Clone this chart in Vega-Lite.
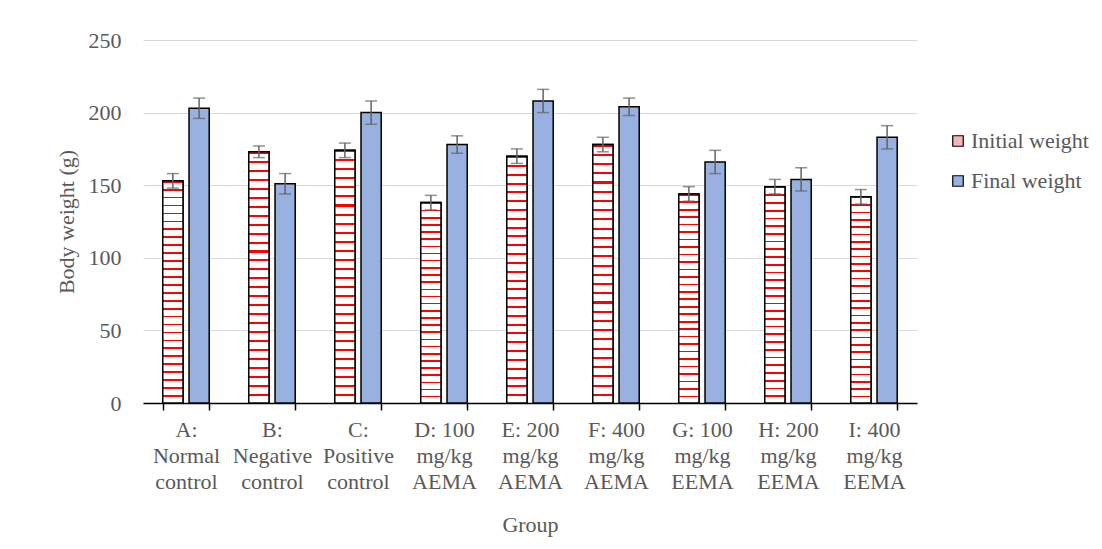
{
  "$schema": "https://vega.github.io/schema/vega-lite/v6.json",
  "autosize": "none",
  "width": 774,
  "height": 363,
  "padding": {"left": 143, "top": 40, "right": 185, "bottom": 146},
  "background": "white",
  "config": {
    "font": "Liberation Serif",
    "view": {"stroke": null},
    "axis": {"labelFont": "Liberation Serif", "titleFont": "Liberation Serif", "labelFontSize": 22, "titleFontSize": 22, "labelColor": "#595959", "titleColor": "#595959", "titleFontWeight": "normal"},
    "legend": {"labelFont": "Liberation Serif", "labelFontSize": 22, "labelColor": "#595959"}
  },
  "data": {
    "values": [
      {"group": "A:\nNormal\ncontrol", "series": "Initial weight", "value": 153, "lo": 148, "hi": 158},
      {"group": "A:\nNormal\ncontrol", "series": "Final weight", "value": 203, "lo": 196, "hi": 210},
      {"group": "B:\nNegative\ncontrol", "series": "Initial weight", "value": 173, "lo": 169, "hi": 177},
      {"group": "B:\nNegative\ncontrol", "series": "Final weight", "value": 151, "lo": 144, "hi": 158},
      {"group": "C:\nPositive\ncontrol", "series": "Initial weight", "value": 174, "lo": 169, "hi": 179},
      {"group": "C:\nPositive\ncontrol", "series": "Final weight", "value": 200, "lo": 192, "hi": 208},
      {"group": "D: 100\nmg/kg\nAEMA", "series": "Initial weight", "value": 138, "lo": 133, "hi": 143},
      {"group": "D: 100\nmg/kg\nAEMA", "series": "Final weight", "value": 178, "lo": 172, "hi": 184},
      {"group": "E: 200\nmg/kg\nAEMA", "series": "Initial weight", "value": 170, "lo": 165, "hi": 175},
      {"group": "E: 200\nmg/kg\nAEMA", "series": "Final weight", "value": 208, "lo": 200, "hi": 216},
      {"group": "F: 400\nmg/kg\nAEMA", "series": "Initial weight", "value": 178, "lo": 173, "hi": 183},
      {"group": "F: 400\nmg/kg\nAEMA", "series": "Final weight", "value": 204, "lo": 198, "hi": 210},
      {"group": "G: 100\nmg/kg\nEEMA", "series": "Initial weight", "value": 144, "lo": 139, "hi": 149},
      {"group": "G: 100\nmg/kg\nEEMA", "series": "Final weight", "value": 166, "lo": 158, "hi": 174},
      {"group": "H: 200\nmg/kg\nEEMA", "series": "Initial weight", "value": 149, "lo": 144, "hi": 154},
      {"group": "H: 200\nmg/kg\nEEMA", "series": "Final weight", "value": 154, "lo": 146, "hi": 162},
      {"group": "I: 400\nmg/kg\nEEMA", "series": "Initial weight", "value": 142, "lo": 137, "hi": 147},
      {"group": "I: 400\nmg/kg\nEEMA", "series": "Final weight", "value": 183, "lo": 175, "hi": 191}
    ]
  },
  "encoding": {
    "x": {
      "field": "group", "type": "nominal", "sort": null,
      "scale": {"paddingInner": 0.46, "paddingOuter": 0.23},
      "axis": {"title": "Group", "labelAngle": 0, "labelExpr": "split(datum.label, '\\n')", "labelLineHeight": 26, "labelPadding": 9, "tickBand": "extent", "tickSize": 7, "tickColor": "#000000", "tickWidth": 1.5, "domainColor": "#000000", "domainWidth": 1.5, "titlePadding": 22, "grid": false, "labelBaseline": "top"}
    },
    "xOffset": {"field": "series", "type": "nominal", "scale": {"domain": ["Initial weight", "Final weight"], "paddingInner": 0.23, "paddingOuter": 0}}
  },
  "layer": [
    {
      "mark": {"type": "bar", "stroke": "#000000", "strokeWidth": 1.5},
      "encoding": {
        "y": {"field": "value", "type": "quantitative", "scale": {"domain": [0, 250], "nice": false, "zero": true}, "axis": {"title": "Body weight (g)", "values": [0, 50, 100, 150, 200, 250], "domain": false, "ticks": false, "labelPadding": 22, "gridColor": "#d9d9d9", "gridWidth": 1.2, "titlePadding": 10}},
        "color": {"field": "series", "type": "nominal", "scale": {"domain": ["Initial weight", "Final weight"], "range": ["#f7b4b4", "#98b1e0"]}, "legend": {"title": null, "orient": "none", "legendX": 804, "legendY": 90, "symbolType": "square", "symbolSize": 110, "symbolStrokeColor": "#000000", "symbolStrokeWidth": 1.2, "rowPadding": 18, "labelOffset": 2}}
      }
    },
    {
      "transform": [{"filter": "datum.series == 'Initial weight'"}],
      "mark": {"type": "bar", "stroke": "#000000", "strokeWidth": 1.5, "fill": {"gradient": "linear", "x1": 0, "y1": 0, "x2": 0, "y2": 1, "stops": [
        {"offset": 0, "color": "#ff0000"}, {"offset": 0.008, "color": "#ff0000"}, {"offset": 0.008, "color": "#ffffff"}, {"offset": 0.0357, "color": "#ffffff"},
        {"offset": 0.0357, "color": "#ff0000"}, {"offset": 0.0437, "color": "#ff0000"}, {"offset": 0.0437, "color": "#ffffff"}, {"offset": 0.0714, "color": "#ffffff"},
        {"offset": 0.0714, "color": "#ff0000"}, {"offset": 0.0794, "color": "#ff0000"}, {"offset": 0.0794, "color": "#ffffff"}, {"offset": 0.1071, "color": "#ffffff"},
        {"offset": 0.1071, "color": "#ff0000"}, {"offset": 0.1151, "color": "#ff0000"}, {"offset": 0.1151, "color": "#ffffff"}, {"offset": 0.1429, "color": "#ffffff"},
        {"offset": 0.1429, "color": "#ff0000"}, {"offset": 0.1509, "color": "#ff0000"}, {"offset": 0.1509, "color": "#ffffff"}, {"offset": 0.1786, "color": "#ffffff"},
        {"offset": 0.1786, "color": "#ff0000"}, {"offset": 0.1866, "color": "#ff0000"}, {"offset": 0.1866, "color": "#ffffff"}, {"offset": 0.2143, "color": "#ffffff"},
        {"offset": 0.2143, "color": "#ff0000"}, {"offset": 0.2223, "color": "#ff0000"}, {"offset": 0.2223, "color": "#ffffff"}, {"offset": 0.25, "color": "#ffffff"},
        {"offset": 0.25, "color": "#ff0000"}, {"offset": 0.258, "color": "#ff0000"}, {"offset": 0.258, "color": "#ffffff"}, {"offset": 0.2857, "color": "#ffffff"},
        {"offset": 0.2857, "color": "#ff0000"}, {"offset": 0.2937, "color": "#ff0000"}, {"offset": 0.2937, "color": "#ffffff"}, {"offset": 0.3214, "color": "#ffffff"},
        {"offset": 0.3214, "color": "#ff0000"}, {"offset": 0.3294, "color": "#ff0000"}, {"offset": 0.3294, "color": "#ffffff"}, {"offset": 0.3571, "color": "#ffffff"},
        {"offset": 0.3571, "color": "#ff0000"}, {"offset": 0.3651, "color": "#ff0000"}, {"offset": 0.3651, "color": "#ffffff"}, {"offset": 0.3929, "color": "#ffffff"},
        {"offset": 0.3929, "color": "#ff0000"}, {"offset": 0.4009, "color": "#ff0000"}, {"offset": 0.4009, "color": "#ffffff"}, {"offset": 0.4286, "color": "#ffffff"},
        {"offset": 0.4286, "color": "#ff0000"}, {"offset": 0.4366, "color": "#ff0000"}, {"offset": 0.4366, "color": "#ffffff"}, {"offset": 0.4643, "color": "#ffffff"},
        {"offset": 0.4643, "color": "#ff0000"}, {"offset": 0.4723, "color": "#ff0000"}, {"offset": 0.4723, "color": "#ffffff"}, {"offset": 0.5, "color": "#ffffff"},
        {"offset": 0.5, "color": "#ff0000"}, {"offset": 0.508, "color": "#ff0000"}, {"offset": 0.508, "color": "#ffffff"}, {"offset": 0.5357, "color": "#ffffff"},
        {"offset": 0.5357, "color": "#ff0000"}, {"offset": 0.5437, "color": "#ff0000"}, {"offset": 0.5437, "color": "#ffffff"}, {"offset": 0.5714, "color": "#ffffff"},
        {"offset": 0.5714, "color": "#ff0000"}, {"offset": 0.5794, "color": "#ff0000"}, {"offset": 0.5794, "color": "#ffffff"}, {"offset": 0.6071, "color": "#ffffff"},
        {"offset": 0.6071, "color": "#ff0000"}, {"offset": 0.6151, "color": "#ff0000"}, {"offset": 0.6151, "color": "#ffffff"}, {"offset": 0.6429, "color": "#ffffff"},
        {"offset": 0.6429, "color": "#ff0000"}, {"offset": 0.6509, "color": "#ff0000"}, {"offset": 0.6509, "color": "#ffffff"}, {"offset": 0.6786, "color": "#ffffff"},
        {"offset": 0.6786, "color": "#ff0000"}, {"offset": 0.6866, "color": "#ff0000"}, {"offset": 0.6866, "color": "#ffffff"}, {"offset": 0.7143, "color": "#ffffff"},
        {"offset": 0.7143, "color": "#ff0000"}, {"offset": 0.7223, "color": "#ff0000"}, {"offset": 0.7223, "color": "#ffffff"}, {"offset": 0.75, "color": "#ffffff"},
        {"offset": 0.75, "color": "#ff0000"}, {"offset": 0.758, "color": "#ff0000"}, {"offset": 0.758, "color": "#ffffff"}, {"offset": 0.7857, "color": "#ffffff"},
        {"offset": 0.7857, "color": "#ff0000"}, {"offset": 0.7937, "color": "#ff0000"}, {"offset": 0.7937, "color": "#ffffff"}, {"offset": 0.8214, "color": "#ffffff"},
        {"offset": 0.8214, "color": "#ff0000"}, {"offset": 0.8294, "color": "#ff0000"}, {"offset": 0.8294, "color": "#ffffff"}, {"offset": 0.8571, "color": "#ffffff"},
        {"offset": 0.8571, "color": "#ff0000"}, {"offset": 0.8651, "color": "#ff0000"}, {"offset": 0.8651, "color": "#ffffff"}, {"offset": 0.8929, "color": "#ffffff"},
        {"offset": 0.8929, "color": "#ff0000"}, {"offset": 0.9009, "color": "#ff0000"}, {"offset": 0.9009, "color": "#ffffff"}, {"offset": 0.9286, "color": "#ffffff"},
        {"offset": 0.9286, "color": "#ff0000"}, {"offset": 0.9366, "color": "#ff0000"}, {"offset": 0.9366, "color": "#ffffff"}, {"offset": 0.9643, "color": "#ffffff"},
        {"offset": 0.9643, "color": "#ff0000"}, {"offset": 0.9723, "color": "#ff0000"}, {"offset": 0.9723, "color": "#ffffff"}, {"offset": 1, "color": "#ffffff"}
      ]}},
      "encoding": {
        "y": {"field": "value", "type": "quantitative", "scale": {"domain": [0, 250], "nice": false, "zero": true}}
      }
    },
    {
      "mark": {"type": "rule", "color": "#636363", "strokeWidth": 1.5},
      "encoding": {
        "y": {"field": "lo", "type": "quantitative", "scale": {"domain": [0, 250], "nice": false, "zero": true}},
        "y2": {"field": "hi"}
      }
    },
    {
      "mark": {"type": "tick", "color": "#636363", "size": 12, "thickness": 1.5},
      "encoding": {
        "y": {"field": "lo", "type": "quantitative", "scale": {"domain": [0, 250], "nice": false, "zero": true}}
      }
    },
    {
      "mark": {"type": "tick", "color": "#636363", "size": 12, "thickness": 1.5},
      "encoding": {
        "y": {"field": "hi", "type": "quantitative", "scale": {"domain": [0, 250], "nice": false, "zero": true}}
      }
    }
  ]
}
